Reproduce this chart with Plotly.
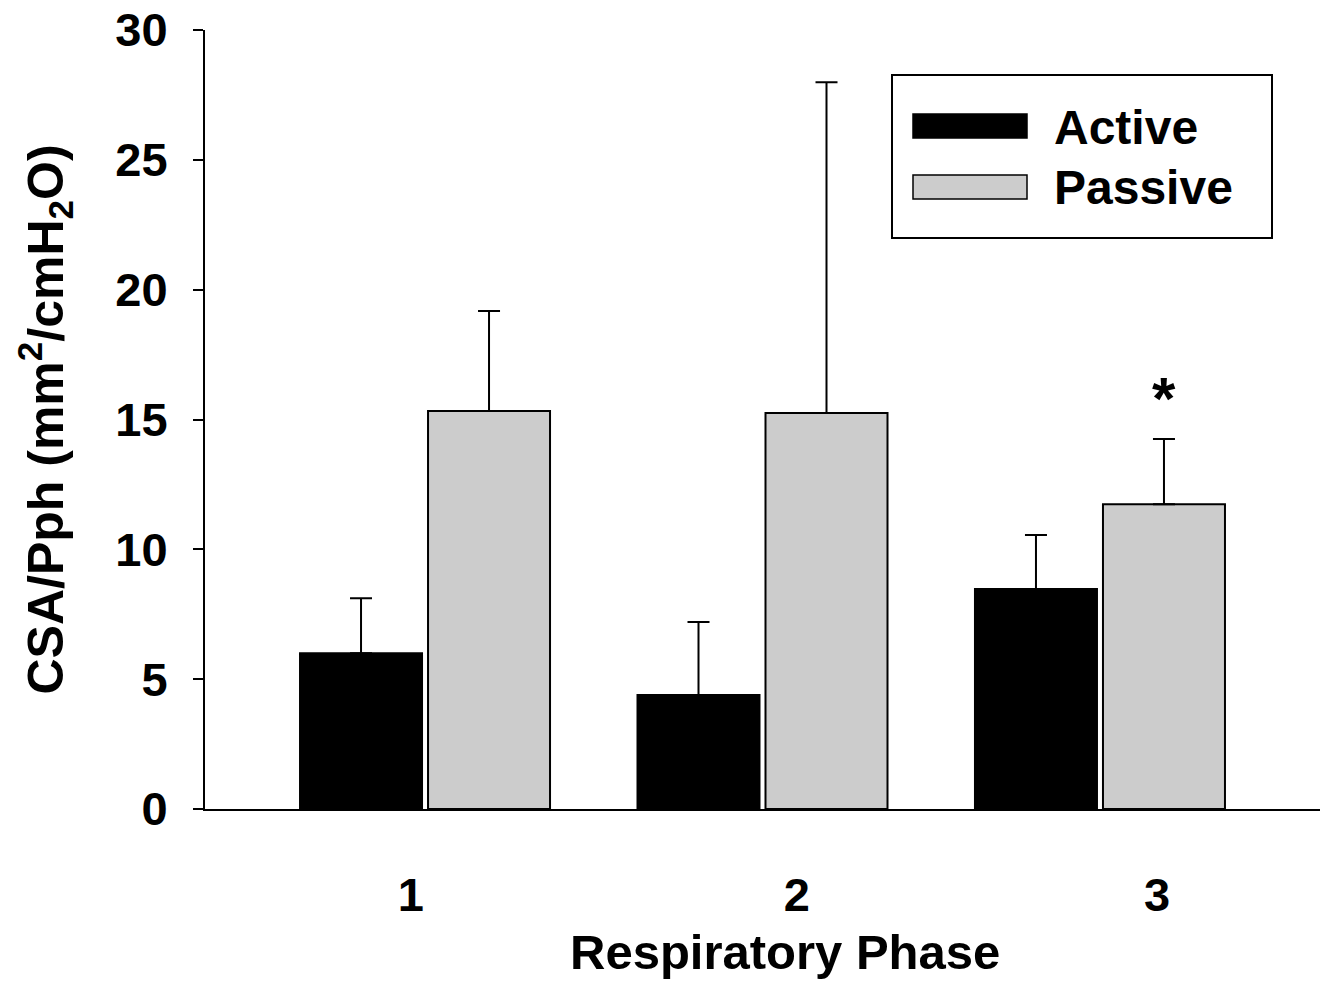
import plotly.graph_objects as go

# ---- data ----
phases = [1, 2, 3]
phase_labels = ["1", "2", "3"]
active_mean = [6.0, 4.39, 8.47]
active_sd = [2.12, 2.81, 2.08]
passive_mean = [15.33, 15.25, 11.74]
passive_sd = [3.85, 12.74, 2.51]
tick_label_pos = [0.958, 2.102, 3.169]
y_ticks = [0, 5, 10, 15, 20, 25, 30]

FONT = "Liberation Sans, Arial, Helvetica, sans-serif"

W, H = 1328, 981
L, R, T, B = 205, 8, 30, 172
PX0, PX1, PY0, PY1 = L, W - R, T, H - B


def px(xp):
    return (xp - PX0) / (PX1 - PX0)


def py(yp):
    return (PY1 - yp) / (PY1 - PY0)


fig = go.Figure()
fig.add_trace(go.Bar(
    x=phases, y=active_mean, name="Active",
    width=0.3615, offset=-0.3704,
    marker=dict(color="#000000", line=dict(color="#000000", width=2)),
    error_y=dict(type="data", array=active_sd, arrayminus=[0, 0, 0], symmetric=False,
                 color="#000000", thickness=2, width=11),
))
fig.add_trace(go.Bar(
    x=phases, y=passive_mean, name="Passive",
    width=0.3615, offset=0.0089,
    marker=dict(color="#cccccc", line=dict(color="#000000", width=2)),
    error_y=dict(type="data", array=passive_sd, arrayminus=[0, 0, 0], symmetric=False,
                 color="#000000", thickness=2, width=11),
))

# significance marker above passive phase 3
fig.add_annotation(
    x=phases[2] + 0.0089 + 0.3615 / 2, y=passive_mean[2] + passive_sd[2],
    xref="x", yref="y", text="*", showarrow=False,
    yanchor="bottom", yshift=5,
    font=dict(family=FONT, size=60, color="black", weight="bold"),
)

# x-axis title (offset to the right like the reference)
fig.add_annotation(
    x=px(785), y=py(952), xref="paper", yref="paper", text="Respiratory Phase",
    showarrow=False, xanchor="center", yanchor="middle",
    font=dict(family=FONT, size=49, color="black", weight="bold"),
)

# legend drawn manually
shapes = [
    dict(type="rect", xref="paper", yref="paper", x0=px(892), x1=px(1272), y0=py(238), y1=py(75),
         line=dict(color="black", width=2), fillcolor="white", layer="below"),
    dict(type="rect", xref="paper", yref="paper", x0=px(913), x1=px(1027), y0=py(138), y1=py(114),
         line=dict(color="black", width=1.5), fillcolor="black"),
    dict(type="rect", xref="paper", yref="paper", x0=px(913), x1=px(1027), y0=py(199), y1=py(175),
         line=dict(color="black", width=1.5), fillcolor="#cccccc"),
]
for name, yc in [("Active", 127), ("Passive", 188)]:
    fig.add_annotation(x=px(1052), y=py(yc), xref="paper", yref="paper", text=name,
                       showarrow=False, xanchor="left", yanchor="middle",
                       font=dict(family=FONT, size=48, color="black", weight="bold"))

fig.update_layout(
    width=W, height=H,
    margin=dict(l=L, r=R, t=T, b=B, pad=0, autoexpand=False),
    paper_bgcolor="white", plot_bgcolor="white",
    showlegend=False, barmode="overlay",
    shapes=shapes,
    font=dict(family=FONT, color="black"),
)
fig.update_xaxes(
    range=[0.348, 3.652], tickvals=tick_label_pos, ticktext=phase_labels,
    showline=True, linecolor="black", linewidth=2, ticks="", showgrid=False, zeroline=False,
    tickfont=dict(family=FONT, size=47, color="black", weight="bold"),
    ticklabelstandoff=44, automargin=False,
)
fig.update_yaxes(
    range=[0, 30], tickvals=y_ticks,
    showline=True, linecolor="black", linewidth=2, ticks="outside", ticklen=10, tickwidth=2,
    tickcolor="black", showgrid=False, zeroline=False,
    tickfont=dict(family=FONT, size=47, color="black", weight="bold"),
    ticklabelstandoff=16, automargin=False,
    title=dict(text="CSA/Pph (mm<sup>2</sup>/cmH<sub>2</sub>O)", standoff=36,
               font=dict(family=FONT, size=50, color="black", weight="bold")),
)

fig.write_html("out.html")
